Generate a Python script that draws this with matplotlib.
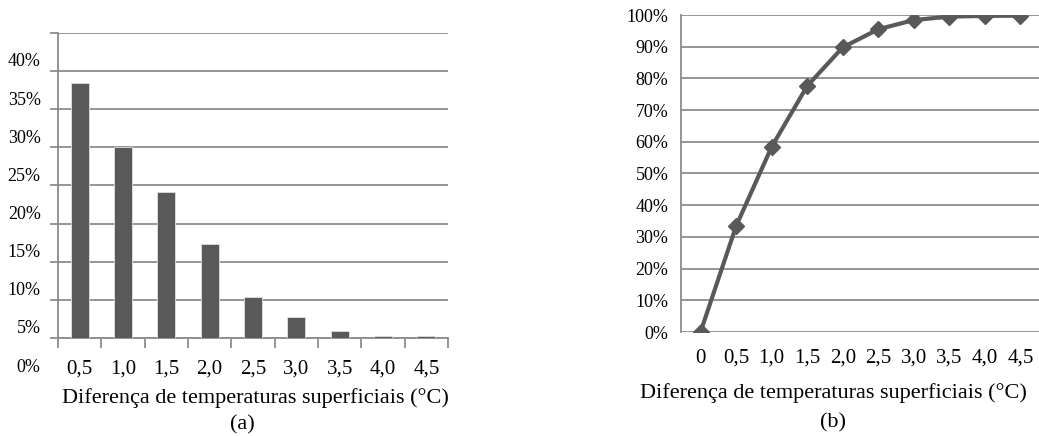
import numpy as np
import matplotlib
matplotlib.use("Agg")
from matplotlib import pyplot as plt
from matplotlib.transforms import ScaledTranslation

plt.rcParams['font.family'] = ['Liberation Serif', 'DejaVu Serif']

# Data
binLabels = ["0,5", "1,0", "1,5", "2,0", "2,5", "3,0", "3,5", "4,0", "4,5"]
binShare = [33.5, 25.0, 19.1, 12.3, 5.4, 2.7, 0.9, 0.2, 0.2]

cumLabels = ["0", "0,5", "1,0", "1,5", "2,0", "2,5", "3,0", "3,5", "4,0", "4,5"]
cumShare = [0.0, 33.4, 58.4, 77.6, 89.8, 95.5, 98.4, 99.5, 99.7, 99.8]

xTitle = "Diferença de temperaturas superficiais (°C)"

W, H, dpi = 1039, 436, 100
fig = plt.figure(figsize=(W/dpi, H/dpi), dpi=dpi)
barColor = "#595959"
gridColor = "#8c8c8c"


def axRect(left, top, right, bottom):
    """ pixel box -> figure fraction rect """
    return [left/W, 1 - bottom/H, (right - left)/W, (bottom - top)/H]


# (a) histogram
axA = fig.add_axes(axRect(58, 33, 448, 338))
xa = np.arange(len(binShare))
axA.bar(xa, binShare, width=0.42, color=barColor, edgecolor="#e0e0e0", linewidth=0.6, zorder=3)
axA.set_xlim(-0.5, len(binShare) - 0.5)
axA.set_ylim(0, 40)
axA.set_yticks(np.arange(0, 41, 5))
axA.set_yticklabels(["%d%%" % v for v in range(0, 41, 5)], fontsize=13)
axA.yaxis.grid(True, color=gridColor, linewidth=1.3)
axA.set_axisbelow(True)
axA.tick_params(axis='y', length=6, color=gridColor, width=1.3, pad=6.5)
# labels in the original sit below their gridlines
shift = ScaledTranslation(0, -27/dpi, fig.dpi_scale_trans)
for lab in axA.get_yticklabels():
    lab.set_transform(lab.get_transform() + shift)
axA.set_xticks(xa)
axA.set_xticklabels(binLabels, fontsize=15)
axA.set_xticks(np.arange(-0.5, len(binShare), 1), minor=True)
axA.tick_params(axis='x', which='major', length=0, pad=15.5)
axA.tick_params(axis='x', which='minor', length=7, color=gridColor, width=1.3)
for s in ["top", "right"]:
    axA.spines[s].set_visible(False)
for s in ["left", "bottom"]:
    axA.spines[s].set_color(gridColor)
    axA.spines[s].set_linewidth(1.3)
fig.text(255/W, 1 - 398/H, xTitle, fontsize=16, ha='center', va='center')
fig.text(242/W, 1 - 425/H, "(a)", fontsize=16, ha='center', va='center')

# (b) cumulative
axB = fig.add_axes(axRect(681, 15, 1040, 332))
xb = np.arange(len(cumShare))
axB.plot(xb, cumShare, color=barColor, linewidth=3, marker='D', markersize=8.5, zorder=3)
axB.set_xlim(-0.55, len(cumShare) - 0.45)
axB.set_ylim(0, 100)
axB.set_yticks(np.arange(0, 101, 10))
axB.set_yticklabels(["%d%%" % v for v in range(0, 101, 10)], fontsize=13)
axB.yaxis.grid(True, color=gridColor, linewidth=1.3)
axB.set_axisbelow(True)
axB.tick_params(axis='y', length=0, pad=9)
axB.set_xticks(xb)
axB.set_xticklabels(cumLabels, fontsize=15)
axB.tick_params(axis='x', length=0, pad=12)
for s in ["top", "right", "bottom"]:
    axB.spines[s].set_visible(False)
axB.spines["left"].set_color(gridColor)
axB.spines["left"].set_linewidth(1.3)
fig.text(833/W, 1 - 393/H, xTitle, fontsize=16, ha='center', va='center')
fig.text(833/W, 1 - 423/H, "(b)", fontsize=16, ha='center', va='center')

fig.savefig("out.png", dpi=dpi)
